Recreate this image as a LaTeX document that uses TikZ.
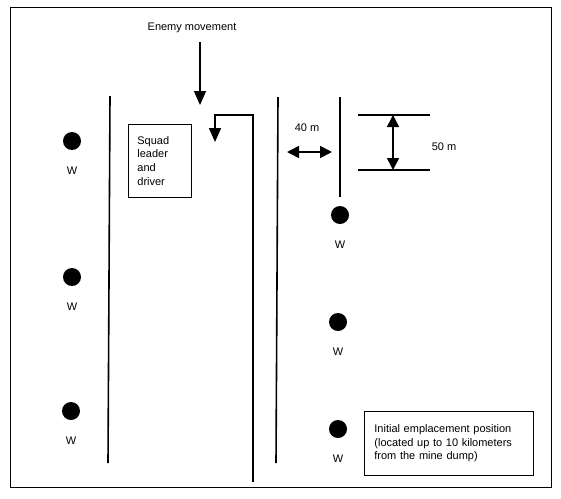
\documentclass[tikz,border=0pt]{standalone}
\usepackage{fontspec}
\setmainfont{Liberation Sans}
\usetikzlibrary{positioning}
\usetikzlibrary{arrows.meta}
\tikzset{node distance=17pt,
every node/.style={font=\fontsize{11}{13.7}\selectfont},
mine/.style={ % Sets the look of each weapon position
circle, fill=black, minimum size=18pt, inner sep=0pt},
wlabel/.style={inner sep=0pt},
road/.style={line width=1.6pt},
infobox/.style={draw, line width=0.8pt, align=left, anchor=north west},
move/.style={ % Movement arrows with solid heads
line width=1.6pt, -{Triangle[length=14pt,width=12pt]}},
dist/.style={ % Distance arrows, heads at both ends
line width=1.6pt, {Triangle[length=12pt,width=12pt]}-{Triangle[length=12pt,width=12pt]}}}

\begin{document}
\begin{tikzpicture}[x=1pt, y=-1pt]
	\useasboundingbox (0,0) rectangle (561,498);
	\draw[line width=0.9pt] (10,7) rectangle (551,487);
	% lanes
	\coordinate (l1t) at (110,96);
	\coordinate (l1b) at (108,463);
	\coordinate (l2b) at (253,482);
	\coordinate (hk) at (215,115);
	\coordinate (hktip) at (215,142);
	\coordinate (l3t) at (278,97);
	\coordinate (l3b) at (276,463);
	\coordinate (l4t) at (340,97);
	\coordinate (l4b) at (340,197);
	\draw[road] (l1t) -- (l1b);
	\draw[road] (l3t) -- (l3b);
	\draw[road] (l4t) -- (l4b);
	\draw[move] (l2b) |- (hk) -- (hktip);
	% enemy
	\node (enemy) at (192,28) {Enemy movement};
	\coordinate (ehit) at (200,105);
	\draw[move, shorten <=6pt] (enemy.south -| ehit) -- (ehit);
	% boxes
	\node[infobox, text width=45pt, inner xsep=9pt, minimum height=73pt] (sq) at (128,124) {Squad\\leader\\and\\driver};
	\node[infobox, text width=149pt, inner xsep=10pt, minimum height=64pt] (init) at (364,411) {Initial emplacement position\\(located up to 10 kilometers\\from the mine dump)};
	% distances
	\node (d40) at (307,128) {40 m};
	\coordinate (d40a) at (287,152);
	\coordinate (d40b) at (332,152);
	\draw[dist] (d40a) -- (d40b);
	\coordinate (t1a) at (358,115);
	\coordinate (t1b) at (430,115);
	\coordinate (t2a) at (358,170);
	\coordinate (t2b) at (430,170);
	\coordinate (m1) at (393,115);
	\coordinate (m2) at (393,170);
	\draw[road] (t1a) -- (t1b);
	\draw[road] (t2a) -- (t2b);
	\draw[dist] (m1) -- (m2);
	\node (d50) at (444,147) {50 m};
	% weapons
	\node[mine] (w1) at (72,141) {};
	\node[mine] (w2) at (72,277) {};
	\node[mine] (w3) at (71,411) {};
	\node[mine] (w4) at (340,215) {};
	\node[mine] (w5) at (338,322) {};
	\node[mine] (w6) at (338,429) {};
	\foreach \w in {w1,w2,w3,w4,w5,w6}
		\node[wlabel, below=of \w] (\w l) {W};
\end{tikzpicture}
\end{document}
